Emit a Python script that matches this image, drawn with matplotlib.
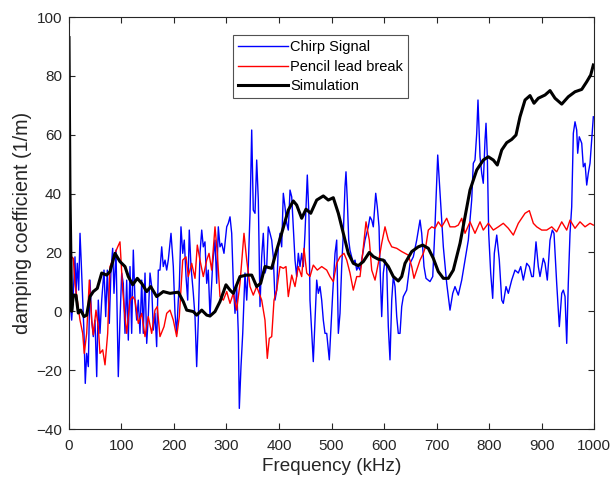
import matplotlib
matplotlib.use("Agg")
import matplotlib.pyplot as plt

# Chirp signal (blue)
chirp_f = [0, 1.9, 5.1, 8.2, 11.4, 13.3, 15.8, 18.5, 21, 23.4, 26.1, 28.6, 31, 33.7, 36.8, 40, 43.2, 46.3, 49.5,
           52.8, 55.8, 59, 62.3, 66.7, 69.9, 73, 76.8, 80, 83.2, 85.7, 89.5, 93.9, 97.1, 100.4, 103.4, 106.7,
           109.9, 113, 116.2, 119.4, 122.5, 125.7, 129, 132, 135.2, 138.5, 141.5, 144.8, 148, 151, 154.3, 157.5,
           160.6, 163.8, 167, 170.1, 173.3, 176.6, 179.6, 182.9, 186.1, 189.1, 194.3, 198.7, 201.9, 205.1, 208.2,
           210.1, 213.3, 216.6, 219.6, 222.9, 226.1, 229.1, 232.4, 236.8, 240, 243.2, 246.3, 249.5, 252.8, 255.8,
           259, 262.3, 265.3, 268.6, 273.7, 278.1, 281.3, 284.4, 287.6, 290.9, 295.2, 300.4, 303.4, 306.7, 309.9,
           313, 316.2, 319.4, 322.5, 324.4, 327.6, 330.9, 335.2, 338.5, 341.5, 344.8, 348, 351, 354.3, 357.5,
           360.6, 363.8, 367, 370.1, 373.3, 376.6, 379.6, 382.9, 386.1, 389.1, 392.4, 395.6, 398.7, 401.9, 405.1,
           408.2, 411.4, 414.7, 417.7, 421, 424.2, 427.2, 430.5, 433.7, 436.8, 440, 443.2, 446.3, 449.5, 453.9,
           457.1, 459, 462.3, 465.3, 468.6, 471.8, 474.9, 478.1, 481.3, 484.4, 487.6, 490.9, 495.8, 499, 502.3,
           506.7, 509.9, 513, 516.2, 519.4, 522.5, 525.7, 527.6, 530.1, 532.8, 535.2, 538.5, 541.5, 544.8, 548,
           551, 554.3, 557.5, 560.6, 563.8, 567, 570.1, 573.3, 576.6, 579.6, 584.2, 587.2, 590.5, 592.4, 595.6,
           598.7, 601.9, 605.1, 608.2, 611.4, 614.7, 617.7, 621, 624.2, 627.2, 630.5, 633.7, 636.8, 643.2, 646.3,
           649.5, 655.8, 662.3, 668.6, 671.8, 676.2, 680, 687.6, 692.8, 696.6, 702.3, 706.7, 713, 719.4, 725.7,
           730.9, 735.2, 741.5, 748, 754.3, 760.6, 767, 770.1, 773.3, 776.6, 779, 782.9, 786.1, 789.1, 792.4,
           794.3, 796.8, 799.4, 803.2, 807, 810.1, 814.7, 819.6, 824.2, 827.2, 832.4, 836.8, 843.2, 849.5, 855.8,
           860.4, 865.3, 871.8, 876.8, 881.3, 884.4, 889.5, 893.9, 897.1, 903.4, 906.7, 911, 916.2, 920.6, 923.8,
           928.9, 933.9, 938.5, 941.5, 944.8, 948, 951, 954.3, 957.5, 960.6, 963.8, 967, 968.9, 971.9, 976.6,
           979.6, 982.9, 986.1, 989.1, 992.4, 995.6, 998.7]
chirp_v = [4, 3.8, -3, 6.1, 18.5, 6.1, 16.3, 7.2, 26.5, 16.3, 3.8, -7.5, -24.5, -14.3, -18.8, 10.6, -3, -8.6, -3,
           -22.2, 3.8, -7.5, 3.8, 14, -1.8, 14, -4.1, 14, 21.4, 6.1, 20.8, -22.2, -3, 13, 9.5, -7.5,
           10.6, -9.8, 15.2, -7.5, 20.8, 3.8, -3, 3.8, -7.5, 10.6, -7.5, 13, -10.9, -1.8, 13, 8.4,
           -6.4, -0.7, -12, 14, 14, 21.9, 15.2, 17.4, 14, 17.4, 26.5, 15.2, -0.7, -7.5, 3.8,
           8.4, 28.7, 19.7, 24.2, 11.8, 3.8, 27.6, 15.2, 6.1, -1.8, -18.8, -3, 19.7, 27.6, 21.9,
           23.6, 9.5, 14, -1.8, 16.3, 24.2, 9.5, 28.7, 21.9, 23.1, 19.7, 28.7, 29.9, 32.1, 26.5,
           9.5, -0.7, 8.4, -7.5, -33, -18.8, -7.5, 13, 3.8, 15.2, 33.3, 61.6, 34.4, 33.3, 51.4,
           37.8, 1.6, 18.5, 26.5, 13, 15.2, 28.7, 26.5, 24.2, 18.5, 3.8, 7.2, 21.9, 26.5, 21.9,
           40.1, 35.5, 29.9, 27.6, 41.2, 38.9, 28.7, 17.4, 11.8, 19.7, 15.2, 19.7, 15.2, 26.5, 46.3,
           32.1, 3.8, -7.5, -17.1, -3, 10.6, 6.1, 8.4, 3.8, -3, -7.5, -7.5, -16.5, -5.2, 6.1,
           19.7, 24.2, -7.5, -0.7, 15.2, 26.5, 42.3, 47.4, 37.8, 24.2, 20.8, 18.5, 16.3, 17.4, 14,
           15.2, 14, 17.4, 20.8, 24.2, 26.5, 28.7, 32.1, 31, 28.7, 40.1, 35.5, 28.7, 15.2, -1.8,
           13, 17.4, 15.2, -5.2, -16.5, 3.8, 11.8, 8.4, -1.8, -7.5, -7.5, 1.6, 5, 7.2, 11.8,
           16.3, 18.5, 24.2, 31, 26.5, 15.2, 11.2, 10.1, 11.8, 26.5, 53.1, 40.1, 21.9, 9.5, 0.4,
           6.1, 8.4, 5.5, 10.6, 17.4, 24.2, 37.8, 50.3, 51.4, 60.5, 71.8, 52.5, 46.9, 43.5, 58.2,
           63.9, 52.5, 26.5, 13, 4.4, 19.7, 25.9, 17.4, 3.8, 2.7, 8.4, 6.1, 10.6, 14, 13,
           15.2, 10.6, 16.3, 15.2, 11.8, 11.8, 23.6, 15.2, 11.8, 18, 16.3, 10.6, 24.2, 27.6, 26.5,
           9.5, -5.2, 6.1, 7.2, 5, -10.9, 9.5, 26.5, 35.5, 60.5, 64.4, 61.6, 53.7, 59.3, 57.1,
           49.1, 50.3, 42.9, 46.9, 50.3, 58.2, 66.1]

# Pencil lead break (red)
pencil_f = [2, 5.1, 8.2, 11.4, 15.8, 21, 26.1, 29.1, 33.7, 38.7, 43.2, 46.3, 51.4, 55.8, 59, 64.2, 68.6, 73.7,
            78.1, 83.2, 87.6, 92.8, 97.1, 102.3, 106.7, 109.9, 116.2, 121.3, 125.7, 132, 138.5, 144.8, 151,
            157.5, 163.8, 168.2, 173.3, 181, 186.1, 192.4, 198.7, 205.1, 210.1, 216.6, 222.9, 227.2, 233.7,
            240, 244.4, 249.5, 255.8, 262.3, 266.7, 271.8, 278.1, 282.5, 287.6, 294, 300.4, 306.7, 313, 319.4,
            325.7, 333.3, 338.5, 344.8, 351, 357.5, 367, 373.3, 377.7, 381.5, 386.1, 390.5, 395.6, 401.9, 408.2,
            413.3, 417.7, 424.2, 430.5, 436.8, 443.2, 447.6, 452.8, 459, 465.3, 472.9, 481.3, 490.9, 497.1,
            503.4, 509.9, 516.2, 523.8, 529, 535.2, 541.5, 548, 554.3, 559.4, 565.7, 572, 576.6, 582.9, 589.1,
            595.6, 601.9, 608.2, 614.7, 624.2, 633.7, 640, 646.3, 652.8, 657.1, 662.3, 668.6, 674.9, 680,
            684.4, 690.9, 697.1, 703.4, 709.9, 719.4, 725.7, 735.2, 741.5, 748, 754.3, 763.8, 773.3, 782.9,
            789.1, 798.7, 808.2, 817.7, 827.2, 836.8, 846.3, 855.8, 862.3, 868.6, 876.8, 884.4, 890.9, 900.4,
            909.9, 919.4, 928.9, 938.5, 948, 954.3, 963.8, 973.3, 982.9, 992.4, 998.7]
pencil_v = [10, 18.5, 18, 9.5, 3.8, -3, -7.5, -14.3, -7.5, 10.6, -3, -8, 0.4, -5.2, -14.3, -13.1, -18.2, -7.5,
            15.2, 17.4, 19.7, 21.9, 23.6, 7.2, -1.8, -7.5, 3.8, 5, 3.8, -4.1, -0.7, -8.6, -1.8,
            -7.5, 0.4, 1.6, -8.6, -5.2, -0.7, 0.4, -3, -8.6, -1.8, 17.4, 18.5, 11.8, 16.3,
            11.2, 22.5, 17.4, 11.8, 17.4, 19.7, 14, 28.7, 19.7, 5, 3.8, 6.7, 2.7, 6.1, 0.4,
            9.5, 26.5, 17.4, 8.4, 5.5, 8.4, 3.8, -3, -16, -9.2, -8.6, 3.8, 7.2, 15.2, 14.6,
            15.2, 5, 12.3, 8.4, 15.2, 11.8, 21.4, 13, 11.8, 15.7, 14, 15.2, 14, 11.8,
            10.1, 16.3, 18.5, 19.7, 17.4, 13, 7.2, 11.8, 11.8, 19.7, 30.4, 24.2, 14, 10.6, 16.3,
            23.1, 28.7, 24.2, 21.9, 21.4, 20.3, 19.7, 19.1, 15.2, 11.2, 14, 17.4, 19.7, 22.5,
            27.6, 28.7, 28.2, 30.4, 28.7, 31.6, 28.7, 28.7, 29.3, 31.6, 26.5, 30.4, 26.5, 30.4,
            27.6, 29.9, 27.6, 28.7, 29.9, 28.2, 25.9, 29.9, 31.6, 33.3, 34.2, 29.9, 28.7, 27.6,
            27.6, 28.7, 27, 30.4, 27.6, 31, 28.2, 30.4, 28.7, 29.9, 29.3]

# Simulation (black)
sim_f = [0, 1.9, 5.1, 8.2, 13.3, 17.7, 22.3, 28.6, 33.7, 40, 46.3, 53.9, 62.3, 71.8, 78.1, 87.6, 97.1, 106.7, 113,
         121.3, 130.1, 138.5, 148, 155.6, 167, 179.6, 192.4, 208.2, 217.7, 224.2, 236.8, 243.2, 252.8, 262.3,
         268.6, 278.1, 287.6, 299, 306.7, 313, 325.7, 338.5, 348, 357.5, 365.1, 373.3, 386.1, 395.6, 405.1,
         417.7, 427.2, 433.7, 443.2, 451.4, 460.4, 471.8, 484.4, 493.9, 503.4, 513, 522.5, 532, 541.5, 551,
         560.6, 572, 579.6, 589.1, 598.7, 608.2, 617.7, 627.2, 633.7, 640, 652.8, 665.3, 673.7, 684.4, 693.9,
         703.4, 713, 722.5, 732, 744.8, 754.3, 763.8, 776.6, 789.1, 798.7, 808.2, 815.8, 824.2, 833.7, 843.2,
         851.4, 859, 868.6, 878.1, 885.7, 893.9, 906.7, 916.2, 925.7, 938.5, 951, 963.8, 976.6, 986.1, 993.7,
         998.7]
sim_v = [93, 40, 0, 5.5, 5.5, -0.6, 0.4, -1.8, -1.3, 5, 6.7, 7.8, 13, 12.3, 13.5, 19.7, 16.9, 15.2, 11.8,
         9, 11.2, 9.5, 6.7, 8.4, 5, 6.7, 6.1, 6.5, 3.3, 0.4, -0.1, -1.3, 0.4, -1.3,
         -1.6, -0.1, 3.3, 9, 7.2, 6.1, 11.8, 12.3, 12.3, 8.4, 9.5, 15.2, 14.6, 20.8, 26.5,
         34.4, 37.5, 36.1, 31.6, 34.7, 33.3, 37.8, 39.2, 37.8, 38.6, 33.3, 26.5, 19.7, 16.3, 15.5,
         16.9, 20, 18.6, 17.7, 17.4, 15.2, 11.8, 10.3, 11.8, 16.3, 20.3, 21.9, 22.5, 21.4, 18,
         13.5, 11.2, 11.2, 14, 23.1, 32.1, 41.2, 48, 51.4, 52.5, 51.4, 49.7, 54.8, 57.3, 58.4,
         59.9, 66.1, 71.8, 73.3, 70.7, 72.4, 73.5, 75, 72.4, 70.4, 72.9, 74.6, 75.4, 78, 80.3,
         83.7]

plt.rcParams["font.family"] = ["Liberation Sans", "DejaVu Sans"]
dark = "#262626"

fig = plt.figure(figsize=(6.1, 4.78), dpi=100)
ax = fig.add_axes([0.1131, 0.1025, 0.8607, 0.8619])

ax.plot(chirp_f, chirp_v, color="#0000ff", linewidth=1.0, label="Chirp Signal")
ax.plot(pencil_f, pencil_v, color="#ff0000", linewidth=1.0, label="Pencil lead break")
ax.plot(sim_f, sim_v, color="black", linewidth=2.2, label="Simulation")

ax.set_xlim(0, 1000)
ax.set_ylim(-40, 100)
ax.set_xticks(range(0, 1001, 100))
ax.set_yticks(range(-40, 101, 20))
ax.tick_params(direction="in", top=True, right=True, length=4, width=0.8,
               labelsize=11, colors=dark, pad=5)
ax.tick_params(axis="x", pad=7)
for s in ax.spines.values():
    s.set_color(dark)
    s.set_linewidth(0.8)

ax.set_xlabel("Frequency (kHz)", fontsize=13.6, color=dark, labelpad=4)
ax.set_ylabel("damping coefficient (1/m)", fontsize=14.2, color=dark, labelpad=3)

leg = ax.legend(loc="upper left", bbox_to_anchor=(0.3124, 0.956), fontsize=10.5,
                frameon=True, fancybox=False, edgecolor=dark, borderpad=0.35,
                labelspacing=0.38, handlelength=3.4, handletextpad=0.15, borderaxespad=0)
leg.get_frame().set_linewidth(0.8)

fig.savefig("out.png", dpi=100)
